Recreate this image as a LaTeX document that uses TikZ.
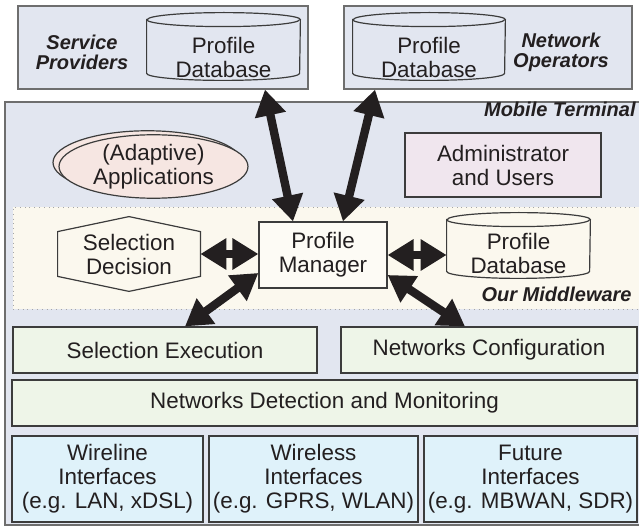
\documentclass[tikz,border=0pt]{standalone}
\usepackage{fontspec}
\setmainfont{Liberation Sans}
\usetikzlibrary{arrows.meta,shadows,shapes.geometric}

\definecolor{txt}{HTML}{231F20}
\definecolor{boxline}{HTML}{3C3C3C}
\definecolor{termline}{HTML}{6E6E6E}
\definecolor{termfill}{HTML}{E2E6F0}
\definecolor{mwfill}{HTML}{FBF8EE}
\definecolor{pmfill}{HTML}{FDFBF5}
\definecolor{appfill}{HTML}{F6E6E2}
\definecolor{admfill}{HTML}{F0E6EE}
\definecolor{layfill}{HTML}{EEF5E8}
\definecolor{iffill}{HTML}{DFF2FA}

\newcommand\figfont{\fontsize{11.2}{12}\selectfont}
\newcommand\tagfont{\fontsize{10}{10}\selectfont\bfseries\itshape}

\tikzset{
  lbl/.style={text=txt, font=\figfont, align=center, inner sep=0pt},
  box/.style={lbl, draw=boxline, line width=0.6pt},
  tag/.style={text=txt, font=\tagfont, align=center, inner sep=0pt},
  slot/.style={inner sep=0pt},
  link/.style={draw=txt, line width=4.2pt,
    {Triangle[length=13pt,width=15pt]}-{Triangle[length=13pt,width=15pt]}},
}

\begin{document}
\begin{tikzpicture}[x=0.5pt,y=0.5pt]
\useasboundingbox (0,0) rectangle (639,526);

% providers and operators
\node[box, draw=termline, fill=termfill, minimum width=145pt, minimum height=41.5pt] (sp) at (163,478.5) {};
\node[box, draw=termline, fill=termfill, minimum width=144pt, minimum height=41.5pt] (no) at (488,478.5) {};
\node[tag] (spt) at (82,474) {Service\\Providers};
\node[tag] (not) at (561,474) {Network\\Operators};

% mobile terminal and middleware
\node[box, draw=termline, fill=termfill, minimum width=320pt, minimum height=211.5pt] (mt) at (325,212.5) {};
\node[tag, anchor=base east] (mtt) at (636,409) {Mobile Terminal};
\node[draw=gray!70, dotted, fill=mwfill, minimum width=316pt, minimum height=51pt, inner sep=0pt] (mw) at (329,268) {};
\node[tag, anchor=base east] (mwt) at (632,224) {Our Middleware};

\node[box, ellipse, fill=appfill, minimum width=94.5pt, minimum height=31.5pt,
  copy shadow={fill=appfill, draw=boxline, shadow xshift=-3pt, shadow yshift=2pt}] (app) at (153.5,359.5) {(Adaptive)\\Applications};
\node[box, fill=admfill, minimum width=98pt, minimum height=32pt] (adm) at (503,361) {Administrator\\and Users};

% profile databases
\foreach \db/\x/\y/\w/\h/\rx/\f in {sdb/223.5/479.5/76.5/33.5/38.25/termfill,
                                    ndb/429/479.5/76/33.5/38/termfill,
                                    mdb/518.5/280.5/71.5/32.5/35.75/mwfill}{
  \node[slot, minimum width=\w pt, minimum height=\h pt] (\db) at (\x,\y) {};
  \draw[boxline, line width=0.6pt, fill=\f] ([yshift=-3.5pt]\db.north west) -- ([yshift=3.5pt]\db.south west)
    arc[start angle=180, end angle=360, x radius=\rx pt, y radius=3.5pt]
    -- ([yshift=-3.5pt]\db.north east)
    arc[start angle=0, end angle=180, x radius=\rx pt, y radius=3.5pt] -- cycle;
  \draw[boxline, line width=0.6pt] ([yshift=-3.5pt]\db.north west)
    arc[start angle=180, end angle=360, x radius=\rx pt, y radius=3.5pt];
}
\node[lbl] (sdbt) at ([yshift=-5.5pt]sdb.center) {Profile\\Database};
\node[lbl] (ndbt) at ([yshift=-5.5pt]ndb.center) {Profile\\Database};
\node[lbl] (mdbt) at ([yshift=-3.75pt]mdb.center) {Profile\\Database};

% selection decision
\node[slot, minimum width=71pt, minimum height=37pt] (sd) at (129,272) {};
\draw[boxline, line width=0.6pt, fill=mwfill] (sd.north) -- ([yshift=-7.5pt]sd.north east)
  -- ([yshift=7.5pt]sd.south east) -- (sd.south) -- ([yshift=7.5pt]sd.south west)
  -- ([yshift=-7.5pt]sd.north west) -- cycle;
\node[lbl] (sdt) at (sd) {Selection\\Decision};

\node[box, fill=pmfill, minimum width=64pt, minimum height=33pt] (pm) at (323,271) {Profile\\Manager};

% layers
\node[box, fill=layfill, minimum width=152pt, minimum height=23pt] (se) at (165,176) {Selection Execution};
\node[box, fill=layfill, minimum width=148pt, minimum height=23pt] (nc) at (489,176) {Networks Configuration};
\node[box, fill=layfill, minimum width=312.5pt, minimum height=23pt] (ndm) at (324.5,123) {Networks Detection and Monitoring};

\node[box, fill=iffill, minimum width=95.5pt, minimum height=43pt] (wl) at (107.5,47) {Wireline\\Interfaces\\(e.g. LAN, xDSL)};
\node[box, fill=iffill, minimum width=104.5pt, minimum height=43pt] (ws) at (313.5,47) {Wireless\\Interfaces\\(e.g. GPRS, WLAN)};
\node[box, fill=iffill, minimum width=106.5pt, minimum height=43pt] (fi) at (530.5,47) {Future\\Interfaces\\(e.g. MBWAN, SDR)};

% arrows
\draw[link] (sd.east) -- (sd.east -| pm.west);
\draw[link] (pm.east) -- (pm.east -| mdb.west);
\draw[link] ([yshift=-9pt]pm.west) -- ([xshift=10pt]se.north);
\draw[link] ([yshift=-10pt]pm.east) -- ([xshift=-12pt]nc.north);
\draw[link] ([xshift=-15pt]pm.north) -- ([xshift=51pt]sp.south);
\draw[link] ([xshift=10pt]pm.north) -- ([xshift=-56.5pt]no.south);

\end{tikzpicture}
\end{document}
